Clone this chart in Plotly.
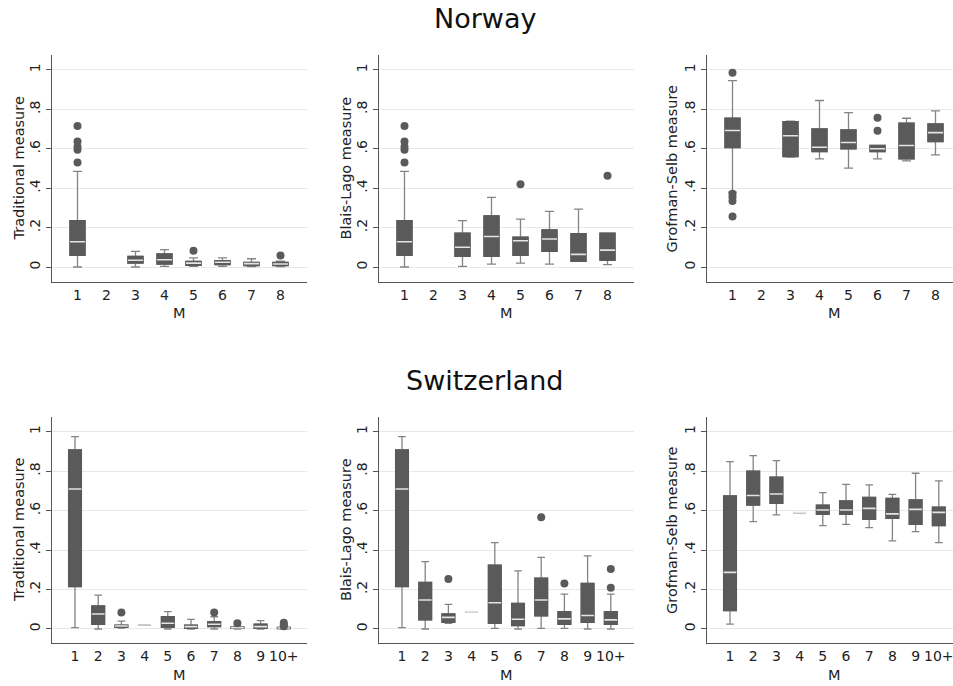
import plotly.graph_objects as go

# ---------------- data ----------------
nor_cats = ["1", "2", "3", "4", "5", "6", "7", "8"]
swi_cats = ["1", "2", "3", "4", "5", "6", "7", "8", "9", "10+"]
y_tickvals = [0, 0.2, 0.4, 0.6, 0.8, 1]
y_ticktext = ["0", ".2", ".4", ".6", ".8", "1"]
measure_titles = ["Traditional measure", "Blais-Lago measure", "Grofman-Selb measure"]
row_titles = ["Norway", "Switzerland"]

# Norway - Traditional
nor_trad_x = ["1", "3", "4", "5", "6", "7", "8"]
nor_trad_q1 = [0.059, 0.020, 0.015, 0.008, 0.012, 0.007, 0.007]
nor_trad_med = [0.128, 0.034, 0.037, 0.020, 0.024, 0.017, 0.015]
nor_trad_q3 = [0.235, 0.054, 0.066, 0.029, 0.032, 0.024, 0.024]
nor_trad_lo = [0.0, 0.0, 0.003, 0.003, 0.003, 0.002, 0.002]
nor_trad_hi = [0.485, 0.079, 0.088, 0.046, 0.046, 0.042, 0.030]
nor_trad_out_x = ["1", "1", "1", "1", "1", "5", "8"]
nor_trad_out_y = [0.716, 0.637, 0.611, 0.595, 0.530, 0.083, 0.059]

# Norway - Blais-Lago
nor_bl_x = ["1", "3", "4", "5", "6", "7", "8"]
nor_bl_q1 = [0.059, 0.054, 0.054, 0.059, 0.079, 0.029, 0.034]
nor_bl_med = [0.128, 0.100, 0.155, 0.133, 0.142, 0.064, 0.086]
nor_bl_q3 = [0.235, 0.172, 0.260, 0.152, 0.189, 0.169, 0.172]
nor_bl_lo = [0.0, 0.003, 0.015, 0.020, 0.015, 0.029, 0.012]
nor_bl_hi = [0.485, 0.235, 0.353, 0.243, 0.282, 0.294, 0.172]
nor_bl_out_x = ["1", "1", "1", "1", "1", "5", "8"]
nor_bl_out_y = [0.716, 0.637, 0.611, 0.595, 0.530, 0.420, 0.463]

# Norway - Grofman-Selb
nor_gs_x = ["1", "3", "4", "5", "6", "7", "8"]
nor_gs_q1 = [0.606, 0.561, 0.586, 0.600, 0.586, 0.549, 0.637]
nor_gs_med = [0.693, 0.666, 0.608, 0.632, 0.600, 0.617, 0.682]
nor_gs_q3 = [0.755, 0.738, 0.701, 0.696, 0.617, 0.730, 0.726]
nor_gs_lo = [0.380, 0.558, 0.549, 0.502, 0.549, 0.539, 0.569]
nor_gs_hi = [0.946, 0.740, 0.845, 0.784, 0.617, 0.755, 0.792]
nor_gs_out_x = ["1", "1", "1", "1", "1", "6", "6"]
nor_gs_out_y = [0.986, 0.372, 0.355, 0.335, 0.257, 0.758, 0.691]

# Switzerland - Traditional
swi_trad_x = ["1", "2", "3", "4", "5", "6", "7", "8", "9", "10+"]
swi_trad_q1 = [0.215, 0.024, 0.008, 0.020, 0.008, 0.003, 0.012, 0.003, 0.003, 0.002]
swi_trad_med = [0.709, 0.076, 0.015, 0.020, 0.029, 0.012, 0.024, 0.007, 0.012, 0.005]
swi_trad_q3 = [0.907, 0.117, 0.020, 0.020, 0.062, 0.020, 0.037, 0.010, 0.025, 0.008]
swi_trad_lo = [0.007, 0.0, 0.004, 0.020, 0.0, 0.0, 0.0, 0.0, 0.0, 0.0]
swi_trad_hi = [0.975, 0.172, 0.040, 0.020, 0.088, 0.049, 0.062, 0.015, 0.042, 0.012]
swi_trad_out_x = ["3", "7", "8", "10+", "10+", "10+"]
swi_trad_out_y = [0.084, 0.083, 0.029, 0.032, 0.022, 0.014]

# Switzerland - Blais-Lago
swi_bl_x = ["1", "2", "3", "4", "5", "6", "7", "8", "9", "10+"]
swi_bl_q1 = [0.215, 0.046, 0.034, 0.088, 0.029, 0.017, 0.066, 0.024, 0.034, 0.024]
swi_bl_med = [0.709, 0.147, 0.059, 0.088, 0.133, 0.049, 0.147, 0.051, 0.068, 0.046]
swi_bl_q3 = [0.907, 0.236, 0.076, 0.088, 0.324, 0.130, 0.257, 0.088, 0.231, 0.088]
swi_bl_lo = [0.007, 0.0, 0.029, 0.088, 0.003, 0.0, 0.003, 0.003, 0.0, 0.0]
swi_bl_hi = [0.975, 0.341, 0.125, 0.088, 0.4375, 0.294, 0.363, 0.177, 0.370, 0.177]
swi_bl_out_x = ["3", "7", "8", "10+", "10+"]
swi_bl_out_y = [0.253, 0.566, 0.231, 0.304, 0.209]

# Switzerland - Grofman-Selb
swi_gs_x = ["1", "2", "3", "4", "5", "6", "7", "8", "9", "10+"]
swi_gs_q1 = [0.093, 0.628, 0.637, 0.590, 0.581, 0.581, 0.556, 0.561, 0.530, 0.524]
swi_gs_med = [0.287, 0.676, 0.684, 0.590, 0.603, 0.603, 0.611, 0.583, 0.606, 0.591]
swi_gs_q3 = [0.674, 0.800, 0.769, 0.590, 0.628, 0.649, 0.667, 0.662, 0.654, 0.617]
swi_gs_lo = [0.025, 0.544, 0.578, 0.590, 0.524, 0.530, 0.514, 0.446, 0.493, 0.4375]
swi_gs_hi = [0.848, 0.878, 0.853, 0.590, 0.691, 0.733, 0.730, 0.682, 0.789, 0.750]
swi_gs_out_x = []
swi_gs_out_y = []

# ---------------- styling / layout ----------------
W, H = 953, 686
FONT = "DejaVu Sans"
BOX_FILL = "#5a5a5a"
WHISK = "#848484"
MED = "#e4e4e4"
AXIS = "#555555"
GRID = "#e8e8e8"

panels = [
    (nor_cats, nor_trad_x, nor_trad_q1, nor_trad_med, nor_trad_q3, nor_trad_lo, nor_trad_hi, nor_trad_out_x, nor_trad_out_y),
    (nor_cats, nor_bl_x, nor_bl_q1, nor_bl_med, nor_bl_q3, nor_bl_lo, nor_bl_hi, nor_bl_out_x, nor_bl_out_y),
    (nor_cats, nor_gs_x, nor_gs_q1, nor_gs_med, nor_gs_q3, nor_gs_lo, nor_gs_hi, nor_gs_out_x, nor_gs_out_y),
    (swi_cats, swi_trad_x, swi_trad_q1, swi_trad_med, swi_trad_q3, swi_trad_lo, swi_trad_hi, swi_trad_out_x, swi_trad_out_y),
    (swi_cats, swi_bl_x, swi_bl_q1, swi_bl_med, swi_bl_q3, swi_bl_lo, swi_bl_hi, swi_bl_out_x, swi_bl_out_y),
    (swi_cats, swi_gs_x, swi_gs_q1, swi_gs_med, swi_gs_q3, swi_gs_lo, swi_gs_hi, swi_gs_out_x, swi_gs_out_y),
]

col_px = [(52, 307), (379, 634), (707, 953)]
row_px = [(55, 282), (417, 643)]
row_yrange = [(-0.076, 1.076), (-0.071, 1.074)]
row_spacing = [29.0, 23.2]   # pixels per category
row_first = [25.5, 23.0]     # px from y-axis to first category
row_boxw = [0.52, 0.55]
ytitle_x = [19, 346, 672]
xlabel_y = [313, 675]
rowtitle_y = [18, 380]

fig = go.Figure()
layout = dict(
    width=W, height=H, margin=dict(l=0, r=0, t=0, b=0),
    paper_bgcolor="white", plot_bgcolor="white",
    showlegend=False, boxmode="overlay",
    font=dict(family=FONT, size=14, color="#222222"),
)
annotations = []

for i, (cats, x, q1, med, q3, lo, hi, ox, oy) in enumerate(panels):
    r, c = divmod(i, 3)
    n = i + 1
    xa = "x" if n == 1 else f"x{n}"
    ya = "y" if n == 1 else f"y{n}"
    bw = row_boxw[r]

    # whiskers + outline
    fig.add_trace(go.Box(
        x=x, q1=q1, median=med, q3=q3, lowerfence=lo, upperfence=hi,
        width=bw, whiskerwidth=0.6, fillcolor=BOX_FILL,
        line=dict(color=WHISK, width=1.3), boxpoints=False,
        hoverinfo="skip", xaxis=xa, yaxis=ya))
    # solid box body
    fig.add_trace(go.Box(
        x=x, q1=q1, median=q1, q3=q3, lowerfence=q1, upperfence=q3,
        width=bw, whiskerwidth=0.0, fillcolor=BOX_FILL,
        line=dict(color=BOX_FILL, width=1.3), boxpoints=False,
        hoverinfo="skip", xaxis=xa, yaxis=ya))
    # median line
    fig.add_trace(go.Box(
        x=x, q1=med, median=med, q3=med, lowerfence=med, upperfence=med,
        width=bw, whiskerwidth=0.0, fillcolor="rgba(0,0,0,0)",
        line=dict(color=MED, width=1.6), boxpoints=False,
        hoverinfo="skip", xaxis=xa, yaxis=ya))
    # outside values
    if ox:
        fig.add_trace(go.Scatter(
            x=ox, y=oy, mode="markers",
            marker=dict(color=BOX_FILL, size=8, line=dict(width=0)),
            hoverinfo="skip", xaxis=xa, yaxis=ya))

    x0, x1 = col_px[c]
    y0, y1 = row_px[r]
    left = -row_first[r] / row_spacing[r]
    right = left + (x1 - x0) / row_spacing[r]
    xkey = "xaxis" if n == 1 else f"xaxis{n}"
    ykey = "yaxis" if n == 1 else f"yaxis{n}"
    layout[xkey] = dict(
        domain=[x0 / W, x1 / W], anchor=ya, type="category",
        categoryorder="array", categoryarray=cats,
        tickvals=cats, ticktext=cats, range=[left, right],
        showline=True, linecolor=AXIS, linewidth=1, ticks="",
        showgrid=False, zeroline=False,
        tickfont=dict(family=FONT, size=14, color="#222222"),
    )
    layout[ykey] = dict(
        domain=[1 - y1 / H, 1 - y0 / H], anchor=xa,
        range=list(row_yrange[r]), tickvals=y_tickvals, ticktext=y_ticktext,
        tickangle=-90, ticks="outside", ticklen=5, tickcolor=AXIS,
        showline=True, linecolor=AXIS, linewidth=1,
        showgrid=True, gridcolor=GRID, gridwidth=1, zeroline=False,
        tickfont=dict(family=FONT, size=14, color="#222222"),
    )
    annotations.append(dict(
        text=measure_titles[c], xref="paper", yref="paper",
        x=ytitle_x[c] / W, y=1 - ((y0 + y1) / 2) / H,
        xanchor="center", yanchor="middle", textangle=-90, showarrow=False,
        font=dict(family=FONT, size=14.5, color="#222222")))
    annotations.append(dict(
        text="M", xref="paper", yref="paper",
        x=((x0 + x1) / 2) / W if c < 2 else ((x0 + x0 + 255) / 2) / W,
        y=1 - xlabel_y[r] / H,
        xanchor="center", yanchor="middle", showarrow=False,
        font=dict(family=FONT, size=14.5, color="#222222")))

for r in range(2):
    annotations.append(dict(
        text=row_titles[r], xref="paper", yref="paper",
        x=485 / W, y=1 - rowtitle_y[r] / H,
        xanchor="center", yanchor="middle", showarrow=False,
        font=dict(family=FONT, size=27, color="#111111")))

layout["annotations"] = annotations
fig.update_layout(**layout)
fig.write_html(
    "out.html",
    config={"displayModeBar": False},
    post_script="document.body.style.margin='0';document.body.style.overflow='hidden';",
)
